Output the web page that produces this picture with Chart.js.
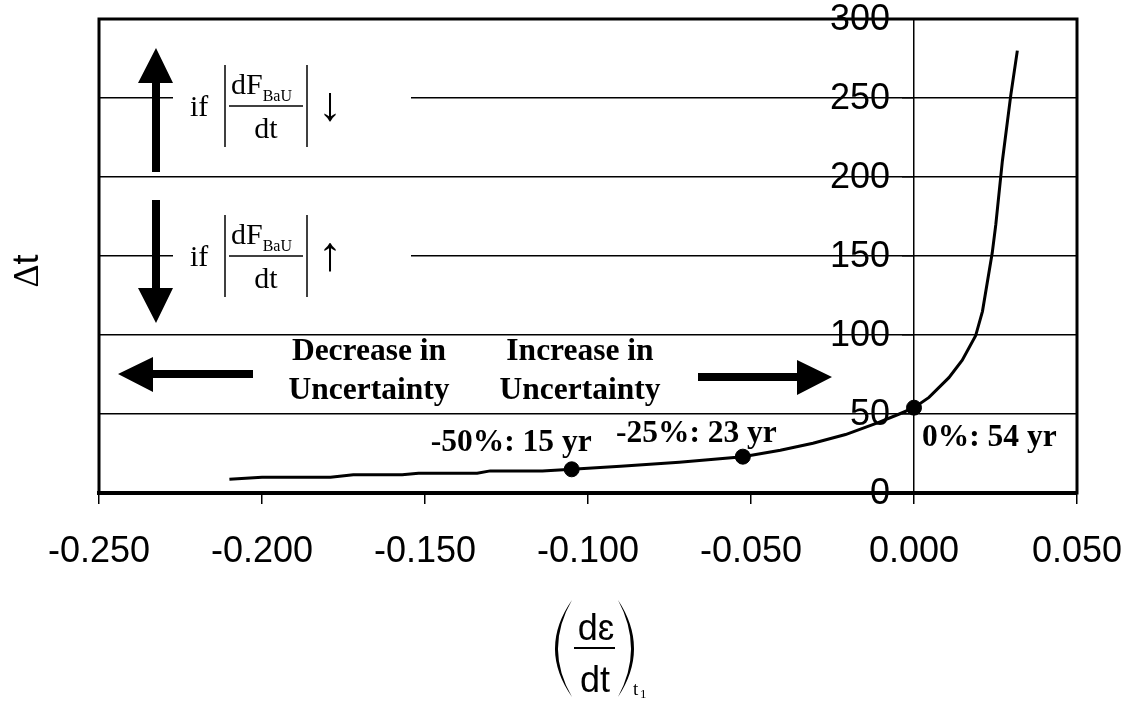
<!DOCTYPE html>
<html>
<head>
<meta charset="utf-8">
<script src="https://cdn.jsdelivr.net/npm/chart.js@4.4.1/dist/chart.umd.min.js"></script>
<style>
  html, body { margin: 0; padding: 0; background: #fff; }
  canvas { display: block; }
</style>
</head>
<body>
<canvas id="chart" width="1138" height="707"></canvas>
<script>
const SANS = '"Liberation Sans", Arial, sans-serif'
const SERIF = '"Liberation Serif", "Times New Roman", serif'
const INK = '#000'

// rate of change d(eps)/dt at t1 against the delay dt in years
const rateValues = [-0.21, -0.2, -0.179, -0.172, -0.157, -0.152, -0.134, -0.13, -0.114, -0.105,
  -0.09, -0.072, -0.0525, -0.041, -0.031, -0.021, -0.011, -0.0045, 0, 0.0046,
  0.0107, 0.0148, 0.0189, 0.021, 0.024, 0.0251, 0.0271, 0.0297, 0.0317]
const deltaT = [8.7, 10, 10, 11.5, 11.5, 12.5, 12.5, 14, 14, 15,
  17, 19.5, 23, 27, 31.5, 37, 44.5, 50, 54, 60.5,
  73, 84, 99.5, 115, 152, 170, 210, 252, 280]

// highlighted cases
const caseNames = ['-50%', '-25%', '0%']
const caseRates = [-0.105, -0.0525, 0]
const caseYears = [15, 23, 54]

const xTicks = [-0.25, -0.2, -0.15, -0.1, -0.05, 0, 0.05]
const yTicks = [0, 50, 100, 150, 200, 250, 300]

const curve = rateValues.map((x, i) => ({ x, y: deltaT[i] }))
const cases = caseRates.map((x, i) => ({ x, y: caseYears[i] }))

function text(ctx, str, x, y, font, align, baseline) {
  ctx.font = font
  ctx.textAlign = align || 'left'
  ctx.textBaseline = baseline || 'alphabetic'
  ctx.fillText(str, x, y)
}

function polygon(ctx, pts) {
  ctx.beginPath()
  pts.forEach(([x, y], i) => (i ? ctx.lineTo(x, y) : ctx.moveTo(x, y)))
  ctx.closePath()
  ctx.fill()
}

function line(ctx, x1, y1, x2, y2, w) {
  ctx.lineWidth = w
  ctx.beginPath()
  ctx.moveTo(x1, y1)
  ctx.lineTo(x2, y2)
  ctx.stroke()
}

// "if |dF_BaU / dt| arrow", y0 is the fraction bar
function bauCondition(ctx, y0, arrow) {
  text(ctx, 'if', 190, y0 + 10, '30px ' + SERIF)
  line(ctx, 225, y0 - 41, 225, y0 + 41, 1.5)
  line(ctx, 307, y0 - 41, 307, y0 + 41, 1.5)
  line(ctx, 229, y0, 303, y0, 1.5)
  ctx.font = '30px ' + SERIF
  const dfw = ctx.measureText('dF').width
  text(ctx, 'dF', 231, y0 - 12, '30px ' + SERIF)
  text(ctx, 'BaU', 231 + dfw, y0 - 5, '16px ' + SERIF)
  text(ctx, 'dt', 266, y0 + 32, '30px ' + SERIF, 'center')
  text(ctx, arrow, 330, y0 + 14, '48px ' + SERIF, 'center')
}

function paren(ctx, xEnd, xOuter, xInner, yTop, yBot) {
  const ym = (yTop + yBot) / 2
  ctx.beginPath()
  ctx.moveTo(xEnd, yTop)
  ctx.quadraticCurveTo(2 * xOuter - xEnd, ym, xEnd, yBot)
  ctx.quadraticCurveTo(2 * xInner - xEnd, ym, xEnd, yTop)
  ctx.fill()
}

const overlay = {
  id: 'overlay',
  afterDraw(chart) {
    const { ctx, chartArea: a, scales } = chart
    ctx.save()
    ctx.fillStyle = INK
    ctx.strokeStyle = INK

    // plot frame
    ctx.lineWidth = 3
    ctx.strokeRect(a.left, a.top, a.right - a.left, a.bottom - a.top)

    // y tick labels sit left of the axis that crosses at x = 0
    const axisX = scales.x.getPixelForValue(0)
    yTicks.forEach((v) => {
      text(ctx, String(v), axisX - 24, scales.y.getPixelForValue(v) + 1, '36px ' + SANS, 'right', 'middle')
    })

    // white panels behind the conditions
    ctx.fillStyle = '#fff'
    ctx.fillRect(173, 40, 238, 125)
    ctx.fillRect(173, 190, 238, 130)
    ctx.fillStyle = INK

    // vertical arrows
    polygon(ctx, [[156, 48], [173, 83], [160, 83], [160, 172], [152, 172], [152, 83], [138, 83]])
    polygon(ctx, [[156, 323], [173, 288], [160, 288], [160, 200], [152, 200], [152, 288], [138, 288]])
    bauCondition(ctx, 106, '\u2193')
    bauCondition(ctx, 256, '\u2191')

    // horizontal arrows
    polygon(ctx, [[118, 374], [153, 357], [153, 370], [253, 370], [253, 378], [153, 378], [153, 392]])
    polygon(ctx, [[832, 377], [797, 360], [797, 373], [698, 373], [698, 381], [797, 381], [797, 395]])

    const bold = 'bold 31.5px ' + SERIF
    text(ctx, 'Decrease in', 369, 360, bold, 'center')
    text(ctx, 'Uncertainty', 369, 399, bold, 'center')
    text(ctx, 'Increase in', 580, 360, bold, 'center')
    text(ctx, 'Uncertainty', 580, 399, bold, 'center')

    // case labels next to the markers
    const offsets = [[20, -18, 'right'], [34, -15, 'right'], [8, 38, 'left']]
    caseNames.forEach((name, i) => {
      const px = scales.x.getPixelForValue(caseRates[i])
      const py = scales.y.getPixelForValue(caseYears[i])
      const [dx, dy, align] = offsets[i]
      text(ctx, `${name}: ${caseYears[i]} yr`, px + dx, py + dy, bold, align)
    })

    // y title
    ctx.save()
    ctx.translate(25, 271)
    ctx.rotate(-Math.PI / 2)
    ctx.font = '36px ' + SERIF
    const dw = ctx.measureText('\u0394').width
    ctx.font = '36px ' + SANS
    const tw = ctx.measureText('t').width
    text(ctx, '\u0394', -(dw + tw) / 2, 13, '36px ' + SERIF)
    text(ctx, 't', -(dw + tw) / 2 + dw, 13, '36px ' + SANS)
    ctx.restore()

    // x title: (d eps / dt) at t1
    text(ctx, 'd\u025B', 596, 640, '36px ' + SANS, 'center')
    text(ctx, 'dt', 595, 692, '36px ' + SANS, 'center')
    line(ctx, 574, 648, 615, 648, 2)
    paren(ctx, 572, 555, 558, 600, 697)
    paren(ctx, 618, 634, 631, 600, 697)
    text(ctx, 't', 633, 695, '19px ' + SERIF)
    text(ctx, '1', 640, 698, '13px ' + SERIF)

    ctx.restore()
  }
}

new Chart(document.getElementById('chart'), {
  type: 'scatter',
  data: {
    datasets: [
      {
        data: curve,
        showLine: true,
        borderColor: INK,
        borderWidth: 3,
        pointRadius: 0,
        tension: 0,
      },
      {
        data: cases,
        showLine: false,
        pointRadius: 7.5,
        pointBackgroundColor: INK,
        pointBorderColor: INK,
      },
    ],
  },
  options: {
    responsive: false,
    animation: false,
    devicePixelRatio: 1,
    layout: { padding: { left: 99, right: 61, top: 19, bottom: 0 } },
    plugins: {
      legend: { display: false },
      tooltip: { enabled: false },
    },
    scales: {
      x: {
        type: 'linear',
        min: -0.25,
        max: 0.05,
        afterBuildTicks: (s) => { s.ticks = xTicks.map((value) => ({ value })) },
        afterFit: (s) => {
          s.height = 214
          s.paddingLeft = 0
          s.paddingRight = 0
        },
        ticks: {
          color: INK,
          font: { family: SANS, size: 36, lineHeight: 1 },
          padding: 30,
          maxRotation: 0,
          callback: (v) => (Math.abs(v) < 1e-9 ? 0 : v).toFixed(3),
        },
        grid: { drawOnChartArea: false, color: INK, lineWidth: 1.5, tickLength: 11 },
        border: { color: INK, width: 4 },
      },
      y: {
        type: 'linear',
        position: { x: 0 },
        min: 0,
        max: 300,
        afterBuildTicks: (s) => { s.ticks = yTicks.map((value) => ({ value })) },
        afterFit: (s) => {
          s.paddingTop = 0
          s.paddingBottom = 0
        },
        ticks: { display: false },
        grid: { color: INK, lineWidth: 1.5, tickLength: 11 },
        border: { color: INK, width: 1.5 },
      },
    },
  },
  plugins: [overlay],
})
</script>
</body>
</html>
